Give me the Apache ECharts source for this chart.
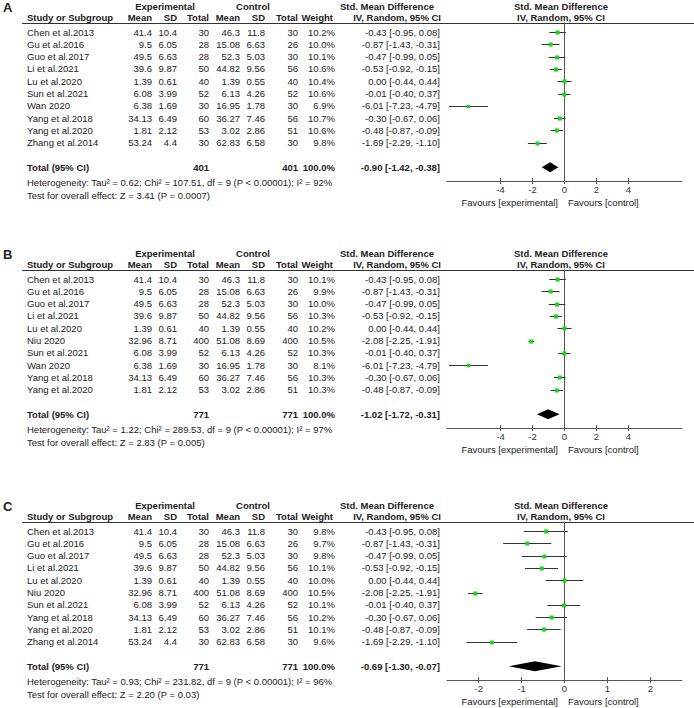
<!DOCTYPE html>
<html><head><meta charset="utf-8">
<script src="https://cdn.jsdelivr.net/npm/echarts@6/dist/echarts.min.js"></script>
<style>html,body{margin:0;padding:0;background:#fff}#c{width:694px;height:708px}</style>
</head><body><div id="c"></div>
<script>
// ---------- DATA ----------
const studyNames = ['Chen et al.2013','Gu et al.2016','Guo et al.2017','Li et al.2021','Lu et al.2020','Niu 2020','Sun et al.2021','Wan 2020','Yang et al.2018','Yang et al.2020','Zhang et al.2014'];
const expMean  = [41.4, 9.5, 49.5, 39.6, 1.39, 32.96, 6.08, 6.38, 34.13, 1.81, 53.24];
const expSD    = [10.4, 6.05, 6.63, 9.87, 0.61, 8.71, 3.99, 1.69, 6.49, 2.12, 4.4];
const expTotal = [30, 28, 28, 50, 40, 400, 52, 30, 60, 53, 30];
const ctlMean  = [46.3, 15.08, 52.3, 44.82, 1.39, 51.08, 6.13, 16.95, 36.27, 3.02, 62.83];
const ctlSD    = [11.8, 6.63, 5.03, 9.56, 0.55, 8.69, 4.26, 1.78, 7.46, 2.86, 6.58];
const ctlTotal = [30, 26, 30, 56, 40, 400, 52, 30, 56, 51, 30];
const smd      = [-0.43, -0.87, -0.47, -0.53, 0.00, -2.08, -0.01, -6.01, -0.30, -0.48, -1.69];
const ciLow    = [-0.95, -1.43, -0.99, -0.92, -0.44, -2.25, -0.40, -7.23, -0.67, -0.87, -2.29];
const ciHigh   = [0.08, -0.31, 0.05, -0.15, 0.44, -1.91, 0.37, -4.79, 0.06, -0.09, -1.10];

const panelLetters = ['A', 'B', 'C'];
const studiesA = [0,1,2,3,4,6,7,8,9,10];
const weightsA = [10.2,10.0,10.1,10.6,10.4,10.6,6.9,10.7,10.6,9.8];
const studiesB = [0,1,2,3,4,5,6,7,8,9];
const weightsB = [10.1,9.9,10.0,10.3,10.2,10.5,10.3,8.1,10.3,10.3];
const studiesC = [0,1,2,3,4,5,6,8,9,10];
const weightsC = [9.8,9.7,9.8,10.1,10.0,10.5,10.1,10.2,10.1,9.6];

const totalExp   = [401, 771, 771];
const totalCtl   = [401, 771, 771];
const pooledSMD  = [-0.90, -1.02, -0.69];
const pooledLow  = [-1.42, -1.72, -1.30];
const pooledHigh = [-0.38, -0.31, -0.07];
const tau2 = ['0.62', '1.22', '0.93'];
const chi2 = ['107.51', '289.53', '231.82'];
const i2   = [92, 97, 96];
const zVal = ['3.41', '2.83', '2.20'];
const pVal = ['0.0007', '0.005', '0.03'];

const ticksAB = [-4, -2, 0, 2, 4];
const ticksC  = [-2, -1, 0, 1, 2];

// ---------- LAYOUT ----------
const bases = [0, 247, 499];
const axisRanges = [7.35, 7.35, 2.74];
const tickSets = [ticksAB, ticksAB, ticksC];
const panelStudies = [studiesA, studiesB, studiesC];
const panelWeights = [weightsA, weightsB, weightsC];
const FIRST = 32, ROWH = 12.3, HLINE = 23, AXISY = 181;
const PLOT_L = 447, PLOT_W = 235;
const FONT = '"Liberation Sans", Arial, sans-serif';
const FS = 9.5;
const TXT = '#222';

function txt(x, y, s, align, bold, size) {
  return { type: 'text', x: x, y: y, silent: true,
    style: { text: s, align: align || 'left', verticalAlign: 'middle', fill: TXT,
      font: (bold ? 'bold ' : '') + (size || FS) + 'px ' + FONT } };
}
function hline(x1, x2, y, color) {
  return { type: 'line', silent: true, shape: { x1: x1, y1: y, x2: x2, y2: y },
    style: { stroke: color || '#333', lineWidth: 1 } };
}
const f2 = v => v.toFixed(2);
const ciText = (m, l, h) => f2(m) + ' [' + f2(l) + ', ' + f2(h) + ']';

const graphics = [];
const grids = [], xAxes = [], yAxes = [], series = [];

panelLetters.forEach((letter, p) => {
  const b = bases[p];
  const rowY = i => b + FIRST + ROWH * i;
  // headers
  graphics.push(txt(3, b + 7, letter, 'left', true, 13));
  graphics.push(txt(165, b + 6, 'Experimental', 'center', true));
  graphics.push(txt(253, b + 6, 'Control', 'center', true));
  graphics.push(txt(340, b + 6, 'Std. Mean Difference', 'left', true));
  graphics.push(txt(561, b + 6, 'Std. Mean Difference', 'center', true));
  const h2 = b + 17.5;
  graphics.push(txt(27, h2, 'Study or Subgroup', 'left', true));
  graphics.push(txt(152, h2, 'Mean', 'right', true));
  graphics.push(txt(177, h2, 'SD', 'right', true));
  graphics.push(txt(209, h2, 'Total', 'right', true));
  graphics.push(txt(240, h2, 'Mean', 'right', true));
  graphics.push(txt(265, h2, 'SD', 'right', true));
  graphics.push(txt(298, h2, 'Total', 'right', true));
  graphics.push(txt(333, h2, 'Weight', 'right', true));
  graphics.push(txt(441, h2, 'IV, Random, 95% CI', 'right', true));
  graphics.push(txt(561, h2, 'IV, Random, 95% CI', 'center', true));
  graphics.push(hline(22, 694, b + HLINE + 0.5));
  // rows
  const st = panelStudies[p], wt = panelWeights[p];
  const pts = [];
  st.forEach((s, i) => {
    const y = rowY(i);
    graphics.push(txt(27, y, studyNames[s]));
    graphics.push(txt(152, y, String(expMean[s]), 'right'));
    graphics.push(txt(177, y, String(expSD[s]), 'right'));
    graphics.push(txt(209, y, String(expTotal[s]), 'right'));
    graphics.push(txt(240, y, String(ctlMean[s]), 'right'));
    graphics.push(txt(265, y, String(ctlSD[s]), 'right'));
    graphics.push(txt(298, y, String(ctlTotal[s]), 'right'));
    graphics.push(txt(335, y, wt[i].toFixed(1) + '%', 'right'));
    graphics.push(txt(440, y, ciText(smd[s], ciLow[s], ciHigh[s]), 'right'));
    pts.push([smd[s], ciLow[s], ciHigh[s], i, wt[i]]);
  });
  const totIdx = st.length + 1;
  const ty = rowY(totIdx);
  graphics.push(txt(27, ty, 'Total (95% CI)', 'left', true));
  graphics.push(txt(209, ty, String(totalExp[p]), 'right', true));
  graphics.push(txt(298, ty, String(totalCtl[p]), 'right', true));
  graphics.push(txt(335, ty, '100.0%', 'right', true));
  graphics.push(txt(440, ty, ciText(pooledSMD[p], pooledLow[p], pooledHigh[p]), 'right', true));
  graphics.push(txt(27, ty + 15.5, 'Heterogeneity: Tau\u00b2 = ' + tau2[p] + '; Chi\u00b2 = ' + chi2[p] + ', df = ' + (st.length - 1) + ' (P < 0.00001); I\u00b2 = ' + i2[p] + '%'));
  graphics.push(txt(27, ty + 28, 'Test for overall effect: Z = ' + zVal[p] + ' (P = ' + pVal[p] + ')'));
  graphics.push(txt(558, b + 202, 'Favours [experimental]', 'right'));
  graphics.push(txt(568, b + 202, 'Favours [control]', 'left'));

  // plot grid
  grids.push({ left: PLOT_L, width: PLOT_W, top: b + HLINE, height: AXISY - HLINE, containLabel: false });
  const R = axisRanges[p];
  xAxes.push({ gridIndex: p, type: 'value', min: -R, max: R, position: 'bottom',
    axisLine: { show: true, onZero: false, lineStyle: { color: '#555', width: 1 } },
    axisTick: { show: true, length: 3, customValues: tickSets[p], lineStyle: { color: '#555' } },
    axisLabel: { show: true, customValues: tickSets[p], fontSize: FS, fontFamily: FONT, color: '#333', margin: 3 },
    splitLine: { show: false } });
  xAxes.push({ gridIndex: p, type: 'value', min: -R, max: R, position: 'top', offset: -(AXISY - HLINE),
    axisLine: { show: false, onZero: false },
    axisTick: { show: true, length: 3, customValues: tickSets[p], lineStyle: { color: '#555' } },
    axisLabel: { show: false }, splitLine: { show: false } });
  yAxes.push({ gridIndex: p, type: 'value', inverse: true,
    min: (HLINE - FIRST) / ROWH, max: (AXISY - FIRST) / ROWH,
    axisLine: { show: true, onZero: true, lineStyle: { color: '#555', width: 1 } },
    axisTick: { show: false }, axisLabel: { show: false }, splitLine: { show: false } });

  series.push({ type: 'custom', xAxisIndex: 2 * p, yAxisIndex: p, silent: true, clip: false,
    encode: { x: [0, 1, 2], y: 3 }, data: pts,
    renderItem: function (params, api) {
      const y = api.value(3);
      const c = api.coord([api.value(0), y]);
      const l = api.coord([api.value(1), y]);
      const h = api.coord([api.value(2), y]);
      const s = 4 * Math.sqrt(api.value(4) / 10);
      const yy = Math.round(c[1]) + 0.5;
      return { type: 'group', children: [
        { type: 'line', shape: { x1: l[0], y1: yy, x2: h[0], y2: yy }, style: { stroke: '#333', lineWidth: 1 } },
        { type: 'rect', shape: { x: c[0] - s / 2, y: yy - s / 2, width: s, height: s }, style: { fill: '#1ed21e' } }
      ] };
    } });
  series.push({ type: 'custom', xAxisIndex: 2 * p, yAxisIndex: p, silent: true, clip: false,
    encode: { x: [0, 1, 2], y: 3 }, data: [[pooledSMD[p], pooledLow[p], pooledHigh[p], totIdx]],
    renderItem: function (params, api) {
      const y = api.value(3);
      const c = api.coord([api.value(0), y]);
      const l = api.coord([api.value(1), y]);
      const h = api.coord([api.value(2), y]);
      return { type: 'polygon', shape: { points: [[l[0], c[1]], [c[0], c[1] - 5], [h[0], c[1]], [c[0], c[1] + 5]] },
        style: { fill: '#000' } };
    } });
});

const chart = echarts.init(document.getElementById('c'), null, { renderer: 'svg' });
chart.setOption({
  animation: false,
  backgroundColor: '#fff',
  grid: grids, xAxis: xAxes, yAxis: yAxes, series: series,
  graphic: { elements: graphics }
});
</script></body></html>
